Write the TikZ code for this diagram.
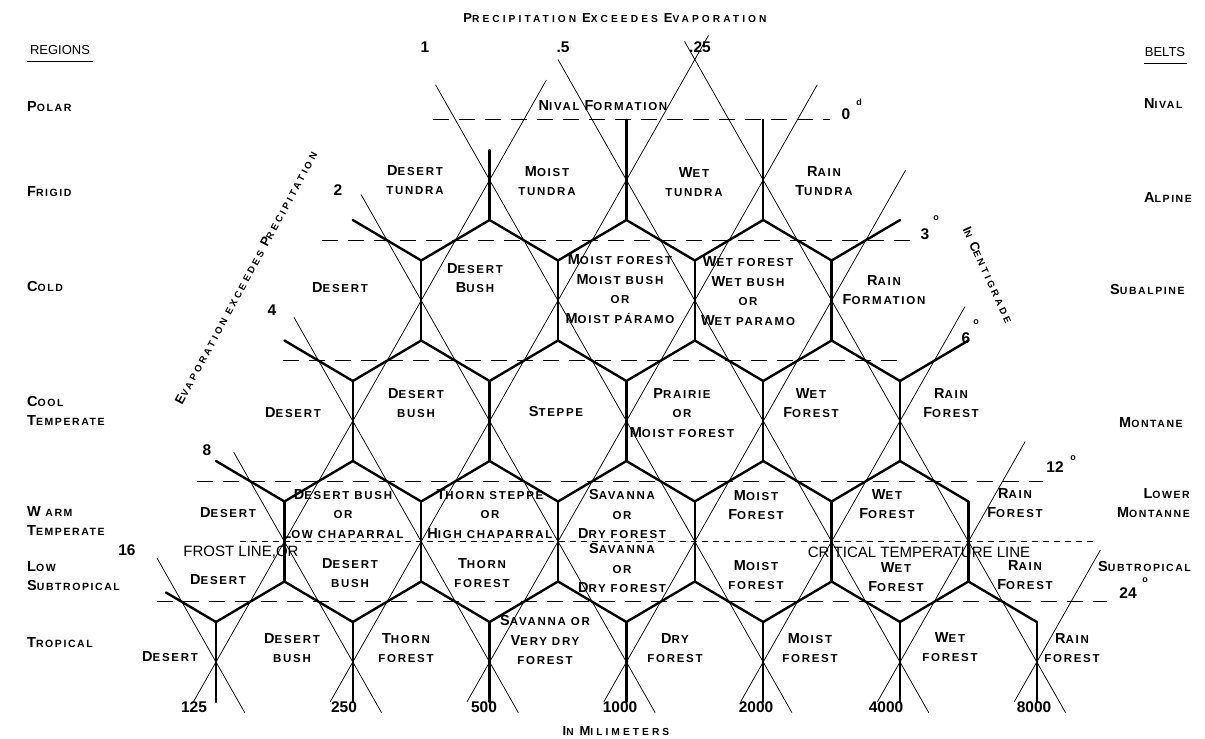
\documentclass[tikz,border=0pt]{standalone}
\usepackage{fontspec}
\setmainfont{Liberation Sans}
\newfontfamily\labfont[LetterSpace=15]{Liberation Sans}
\newfontfamily\titfont[LetterSpace=30]{Liberation Sans}
\newcommand\Cp[1]{{\fontsize{14.5}{14}\selectfont #1}}
\newcommand\Ct[1]{{\fontsize{13}{12}\selectfont #1}}
\begin{document}
\begin{tikzpicture}[x=1pt,y=-1pt,
  hexedge/.style={line width=2.4pt, line cap=round, line join=round},
  guide/.style={line width=0.75pt},
  templine/.style={line width=1.3pt, dash pattern=on 16pt off 10pt},
  frost/.style={line width=1pt, dash pattern=on 6pt off 5pt},
  zone/.style={font=\labfont\bfseries\fontsize{11.5}{19.5}\selectfont, align=center, inner sep=0pt},
  reg/.style={font=\labfont\bfseries\fontsize{10.5}{19}\selectfont, align=left, anchor=west, inner sep=0pt},
  num/.style={font=\bfseries\fontsize{15.5}{15}\selectfont, inner sep=0pt},
  deg/.style={font=\bfseries\fontsize{9}{9}\selectfont, inner sep=0pt},
  tit/.style={font=\titfont\bfseries\fontsize{10.2}{12}\selectfont, inner sep=0pt},
  side/.style={font=\titfont\bfseries\fontsize{9.5}{12}\selectfont, inner sep=0pt},
  plain/.style={font=\fontsize{15}{15}\selectfont, inner sep=0pt}]
\useasboundingbox (0,0) rectangle (1205,739);

% ---------- guide lines (thin) ----------
\foreach \k/\rs in {2/-0.15, 0/0, -2/0.21, -4/1.12, -6/2.14, -8/3.26, -10/4.14}
  \draw[guide] ({558+68.4*((\rs)+(\k))}, {59.5+120.5*(\rs)}) -- ({558+68.4*(5.42+(\k))}, {59.5+120.5*5.42});
\foreach \j/\re in {0/0.17, 2/-0.2, 4/0.21, 6/0.92, 8/2.05, 10/3.17, 12/4.07}
  \draw[guide] ({558+68.4*((\j)-5.33)}, {59.5+120.5*5.33}) -- ({558+68.4*((\j)-(\re))}, {59.5+120.5*(\re)});

% ---------- temperature lines ----------
\draw[templine] (433,119.75) -- (830,119.75);
\draw[templine] (322,240.25) -- (910,240.25);
\draw[templine] (283,360.75) -- (905,360.75);
\draw[templine] (197,481.25) -- (1043,481.25);
\draw[templine] (157,601.75) -- (1107,601.75);
\draw[frost] (240,541) -- (1093,541);

% ---------- hexagon edges ----------
\draw[hexedge] (489.6,150) -- (489.6,220);
\draw[hexedge] (626.4,119.75) -- (626.4,220);
\draw[hexedge] (763.2,119.75) -- (763.2,220);
\foreach \x in {421.2,558,694.8,831.6} \draw[hexedge] (\x,260.5) -- (\x,340.5);
\foreach \x in {352.8,489.6,626.4,763.2,900} \draw[hexedge] (\x,381) -- (\x,461);
\foreach \x in {284.4,421.2,558,694.8,831.6,968.4} \draw[hexedge] (\x,501.5) -- (\x,581.5);
\foreach \x in {216,352.8,489.6,626.4,763.2,900,1036.8} \draw[hexedge] (\x,622) -- (\x,702);

\draw[hexedge] (352.8,220) -- (421.2,260.5) -- (489.6,220) -- (558,260.5) -- (626.4,220) -- (694.8,260.5) -- (763.2,220) -- (831.6,260.5) -- (900,220);
\draw[hexedge] (284.4,340.5) -- (352.8,381) -- (421.2,340.5) -- (489.6,381) -- (558,340.5) -- (626.4,381) -- (694.8,340.5) -- (763.2,381) -- (831.6,340.5) -- (900,381) -- (968.4,340.5);
\draw[hexedge] (216,461) -- (284.4,501.5) -- (352.8,461) -- (421.2,501.5) -- (489.6,461) -- (558,501.5) -- (626.4,461) -- (694.8,501.5) -- (763.2,461) -- (831.6,501.5) -- (900,461) -- (968.4,501.5);
\draw[hexedge] (166,592.5) -- (216,622) -- (284.4,581.5) -- (352.8,622) -- (421.2,581.5) -- (489.6,622) -- (558,581.5) -- (626.4,622) -- (694.8,581.5) -- (763.2,622) -- (831.6,581.5) -- (900,622) -- (968.4,581.5) -- (1036.8,622);

% ---------- headings ----------
\node[tit] (title) at (615,18) {\Ct{P}RECIPITATION \Ct{E}XCEEDES \Ct{E}VAPORATION};
\node[plain, font=\fontsize{13}{13}\selectfont] (regions) at (60,50) {REGIONS};
\draw[line width=0.8pt] (27,61) -- (93,61);
\node[plain, font=\fontsize{13}{13}\selectfont] (belts) at (1165,52) {BELTS};
\draw[line width=0.8pt] (1144,63) -- (1187,63);
\node[side, rotate=61.6] (evap) at (246,278) {\Ct{E}VAPORATION EXCEEDES \Ct{P}RECIPITATION};
\node[side, rotate=-65.5] (centi) at (988,275) {\Ct{I}N \Ct{C}ENTIGRADE};
\node[tit] (mm) at (616,731) {\Ct{I}N \Ct{M}ILIMETERS};

% ---------- scale numbers ----------
\node[num] (p1) at (425,47) {1};
\node[num] (p05) at (563,47) {.5};
\node[num] (p025) at (700,47) {.25};
\node[num] (p2) at (338,190) {2};
\node[num] (p4) at (272,310) {4};
\node[num] (p8) at (207,450) {8};
\node[num] (p16) at (127,550) {16};
\node[num] (m125) at (194,707) {125};
\node[num] (m250) at (344,707) {250};
\node[num] (m500) at (484,707) {500};
\node[num] (m1000) at (620,707) {1000};
\node[num] (m2000) at (756,707) {2000};
\node[num] (m4000) at (886,707) {4000};
\node[num] (m8000) at (1034,707) {8000};
\node[num] (t0) at (846,114) {0};
\node[deg] (t0d) at (859,102) {d};
\node[num] (t3) at (925,234) {3};
\node[deg] (t3d) at (936,218) {o};
\node[num] (t6) at (966,338) {6};
\node[deg] (t6d) at (976,322) {o};
\node[num] (t12) at (1055,467) {12};
\node[deg] (t12d) at (1073,458) {o};
\node[num] (t24) at (1128,593) {24};
\node[deg] (t24d) at (1145,580) {o};

% ---------- regions (left) ----------
\node[reg] (rpolar) at (27,107) {\Cp{P}OLAR};
\node[reg] (rfrigid) at (27,192) {\Cp{F}RIGID};
\node[reg] (rcold) at (27,287) {\Cp{C}OLD};
\node[reg] (rcool) at (27,411) {\Cp{C}OOL\\\Cp{T}EMPERATE};
\node[reg] (rwarm) at (27,521) {\Cp{W} ARM\\\Cp{T}EMPERATE};
\node[reg] (rlow) at (27,576) {\Cp{L}OW\\\Cp{S}UBTROPICAL};
\node[reg] (rtrop) at (27,643) {\Cp{T}ROPICAL};

% ---------- belts (right) ----------
\node[reg] (bnival) at (1144,104) {\Cp{N}IVAL};
\node[reg] (balp) at (1144,198) {\Cp{A}LPINE};
\node[reg] (bsub) at (1110,290) {\Cp{S}UBALPINE};
\node[reg] (bmont) at (1119,423) {\Cp{M}ONTANE};
\node[reg, align=right, anchor=east] (blow) at (1190,503) {\Cp{L}OWER\\\Cp{M}ONTANNE};
\node[reg] (bsubt) at (1098,567) {\Cp{S}UBTROPICAL};

% ---------- zones ----------
\node[zone] (z00) at (603,106) {\Cp{N}IVAL \Cp{F}ORMATION};
\node[zone] (z11) at (415,180) {\Cp{D}ESERT\\TUNDRA};
\node[zone] (z12) at (547,181) {\Cp{M}OIST\\TUNDRA};
\node[zone] (z13) at (694,182) {\Cp{W}ET\\TUNDRA};
\node[zone] (z14) at (824,181) {\Cp{R}AIN\\\Cp{T}UNDRA};

\node[zone] (z21) at (340,288) {\Cp{D}ESERT};
\node[zone] (z22) at (475,278) {\Cp{D}ESERT\\\Cp{B}USH};
\node[zone] (z23) at (620,289) {\Cp{M}OIST FOREST\\\Cp{M}OIST BUSH\\OR\\\Cp{M}OIST PÁRAMO};
\node[zone] (z24) at (748,291) {\Cp{W}ET FOREST\\\Cp{W}ET BUSH\\OR\\\Cp{W}ET PARAMO};
\node[zone] (z25) at (884,290) {\Cp{R}AIN\\\Cp{F}ORMATION};

\node[zone] (z31) at (293,413) {\Cp{D}ESERT};
\node[zone] (z32) at (416,403) {\Cp{D}ESERT\\BUSH};
\node[zone] (z33) at (556,412) {\Cp{S}TEPPE};
\node[zone] (z34) at (682,413) {\Cp{P}RAIRIE\\OR\\\Cp{M}OIST FOREST};
\node[zone] (z35) at (811,403) {\Cp{W}ET\\\Cp{F}OREST};
\node[zone] (z36) at (951,403) {\Cp{R}AIN\\\Cp{F}OREST};

\node[zone] (z41) at (228,513) {\Cp{D}ESERT};
\node[zone] (z42) at (343,514) {\Cp{D}ESERT BUSH\\OR\\\Cp{L}OW CHAPARRAL};
\node[zone] (z43) at (490,514) {\Cp{T}HORN STEPPE\\OR\\\Cp{H}IGH CHAPARRAL};
\node[zone] (z44) at (622,514) {\Cp{S}AVANNA\\OR\\\Cp{D}RY FOREST};
\node[zone] (z45) at (756,505) {\Cp{M}OIST\\\Cp{F}OREST};
\node[zone] (z46) at (887,504) {\Cp{W}ET\\\Cp{F}OREST};
\node[zone] (z47) at (1015,503) {\Cp{R}AIN\\\Cp{F}OREST};

\node[plain] (frostl) at (241,552) {FROST LINE,OR};
\node[plain] (critl) at (919,552) {CRITICAL TEMPERATURE LINE};

\node[zone] (z51) at (218,580) {\Cp{D}ESERT};
\node[zone] (z52) at (350,573) {\Cp{D}ESERT\\BUSH};
\node[zone] (z53) at (482,573) {\Cp{T}HORN\\FOREST};
\node[zone] (z54) at (622,568) {\Cp{S}AVANNA\\OR\\\Cp{D}RY FOREST};
\node[zone] (z55) at (756,575) {\Cp{M}OIST\\FOREST};
\node[zone] (z56) at (896,577) {\Cp{W}ET\\\Cp{F}OREST};
\node[zone] (z57) at (1025,575) {\Cp{R}AIN\\\Cp{F}OREST};

\node[zone] (z61) at (170,657) {\Cp{D}ESERT};
\node[zone] (z62) at (292,648) {\Cp{D}ESERT\\BUSH};
\node[zone] (z63) at (406,648) {\Cp{T}HORN\\FOREST};
\node[zone] (z64) at (545,640) {\Cp{S}AVANNA OR\\\Cp{V}ERY DRY\\FOREST};
\node[zone] (z65) at (675,648) {\Cp{D}RY\\FOREST};
\node[zone] (z66) at (810,648) {\Cp{M}OIST\\FOREST};
\node[zone] (z67) at (950,647) {\Cp{W}ET\\FOREST};
\node[zone] (z68) at (1072,648) {\Cp{R}AIN\\FOREST};
\end{tikzpicture}
\end{document}
